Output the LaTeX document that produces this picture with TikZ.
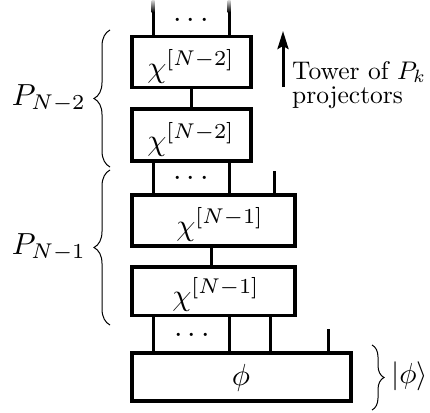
\documentclass[tikz,border=0pt]{standalone}
\usetikzlibrary{decorations.pathreplacing,arrows.meta}
\newcommand{\mth}[1]{\scalebox{3.05}{$#1$}}
\newcommand{\twr}[1]{\scalebox{2.55}{#1}}
\begin{document}
\begin{tikzpicture}[x=1pt,y=-1pt,
  box/.style={draw, line width=3.5pt, inner sep=0pt},
  leg/.style={line width=3pt},
  lbl/.style={inner sep=0pt},
  txt/.style={inner sep=0pt, anchor=base west},
  brc/.style={decorate, decoration={brace, amplitude=#1}, line width=1pt},
]
\useasboundingbox (0,0) rectangle (430,412);
% boxes
\node[box, minimum width=119pt, minimum height=51pt] (A1) at (191.5,62) {};
\node[box, minimum width=119pt, minimum height=52pt] (A2) at (191.5,135) {};
\node[box, minimum width=163pt, minimum height=51pt] (B1) at (213.5,220.5) {};
\node[box, minimum width=163pt, minimum height=48.5pt] (B2) at (213.5,291) {};
\node[box, minimum width=219pt, minimum height=48pt] (phi) at (241.5,377) {};
% box labels
\node[lbl, anchor=base] (cA1) at (191,77) {\mth{\chi^{[N-2]}}};
\node[lbl, anchor=base] (cA2) at (191,150) {\mth{\chi^{[N-2]}}};
\node[lbl, anchor=base] (cB1) at (220,235) {\mth{\chi^{[N-1]}}};
\node[lbl, anchor=base] (cB2) at (216,305) {\mth{\chi^{[N-1]}}};
\node[lbl, anchor=base] (cphi) at (241,385) {\mth{\phi}};
% leg x positions
\coordinate (xL) at (153,0);
\coordinate (xR) at (229,0);
\coordinate (xc) at (211,0);
\coordinate (x4) at (270,0);
\coordinate (tL) at (153,12);
\coordinate (tR) at (229,12);
\coordinate (f1) at (274,171);
\coordinate (f2) at (328,329);
% top fading legs
\shade[top color=black!15, bottom color=black] (151.5,0) rectangle (154.5,12.2);
\shade[top color=black!15, bottom color=black] (227.5,0) rectangle (230.5,12.2);
\draw[leg] (tL) -- (A1.north -| tL);
\draw[leg] (tR) -- (A1.north -| tR);
% connectors
\draw[leg] (A1.south) -- (A2.north);
\draw[leg] (A2.south -| xL) -- (B1.north -| xL);
\draw[leg] (A2.south -| xR) -- (B1.north -| xR);
\draw[leg] (f1) -- (B1.north -| f1);
\draw[leg] (B1.south -| xc) -- (B2.north -| xc);
\draw[leg] (B2.south -| xL) -- (phi.north -| xL);
\draw[leg] (B2.south -| xR) -- (phi.north -| xR);
\draw[leg] (B2.south -| x4) -- (phi.north -| x4);
\draw[leg] (f2) -- (phi.north -| f2);
% dots
\node[lbl, anchor=base] (d1) at (191,27.6) {\mth{\smash{\cdots}}};
\node[lbl, anchor=base] (d2) at (191,185) {\mth{\smash{\cdots}}};
\node[lbl, anchor=base] (d3) at (192,342.5) {\mth{\smash{\cdots}}};
% braces
\coordinate (b1s) at (110,167);
\coordinate (b1e) at (110,30);
\coordinate (b2s) at (110,325);
\coordinate (b2e) at (110,170);
\coordinate (b3s) at (372,345);
\coordinate (b3e) at (372,410);
\draw[brc=16pt] (b1s) -- (b1e);
\draw[brc=16pt] (b2s) -- (b2e);
\draw[brc=12pt] (b3s) -- (b3e);
\node[lbl, anchor=base east] (P2) at (86,105) {\mth{P_{N-2}}};
\node[lbl, anchor=base east] (P1) at (86,254) {\mth{P_{N-1}}};
\node[lbl, anchor=west] (ket) at (391,376) {\scalebox{2.9}{$|\phi\rangle$}};
% tower arrow
\coordinate (aB) at (283,87);
\coordinate (aT) at (283,31);
\draw[line width=3pt, -{Stealth[length=18pt, width=11pt, inset=3pt]}] (aB) -- (aT);
\node[txt] (tw1) at (292,79) {\twr{Tower of $P_k$}};
\node[txt] (tw2) at (292,103) {\twr{projectors}};
\end{tikzpicture}
\end{document}
